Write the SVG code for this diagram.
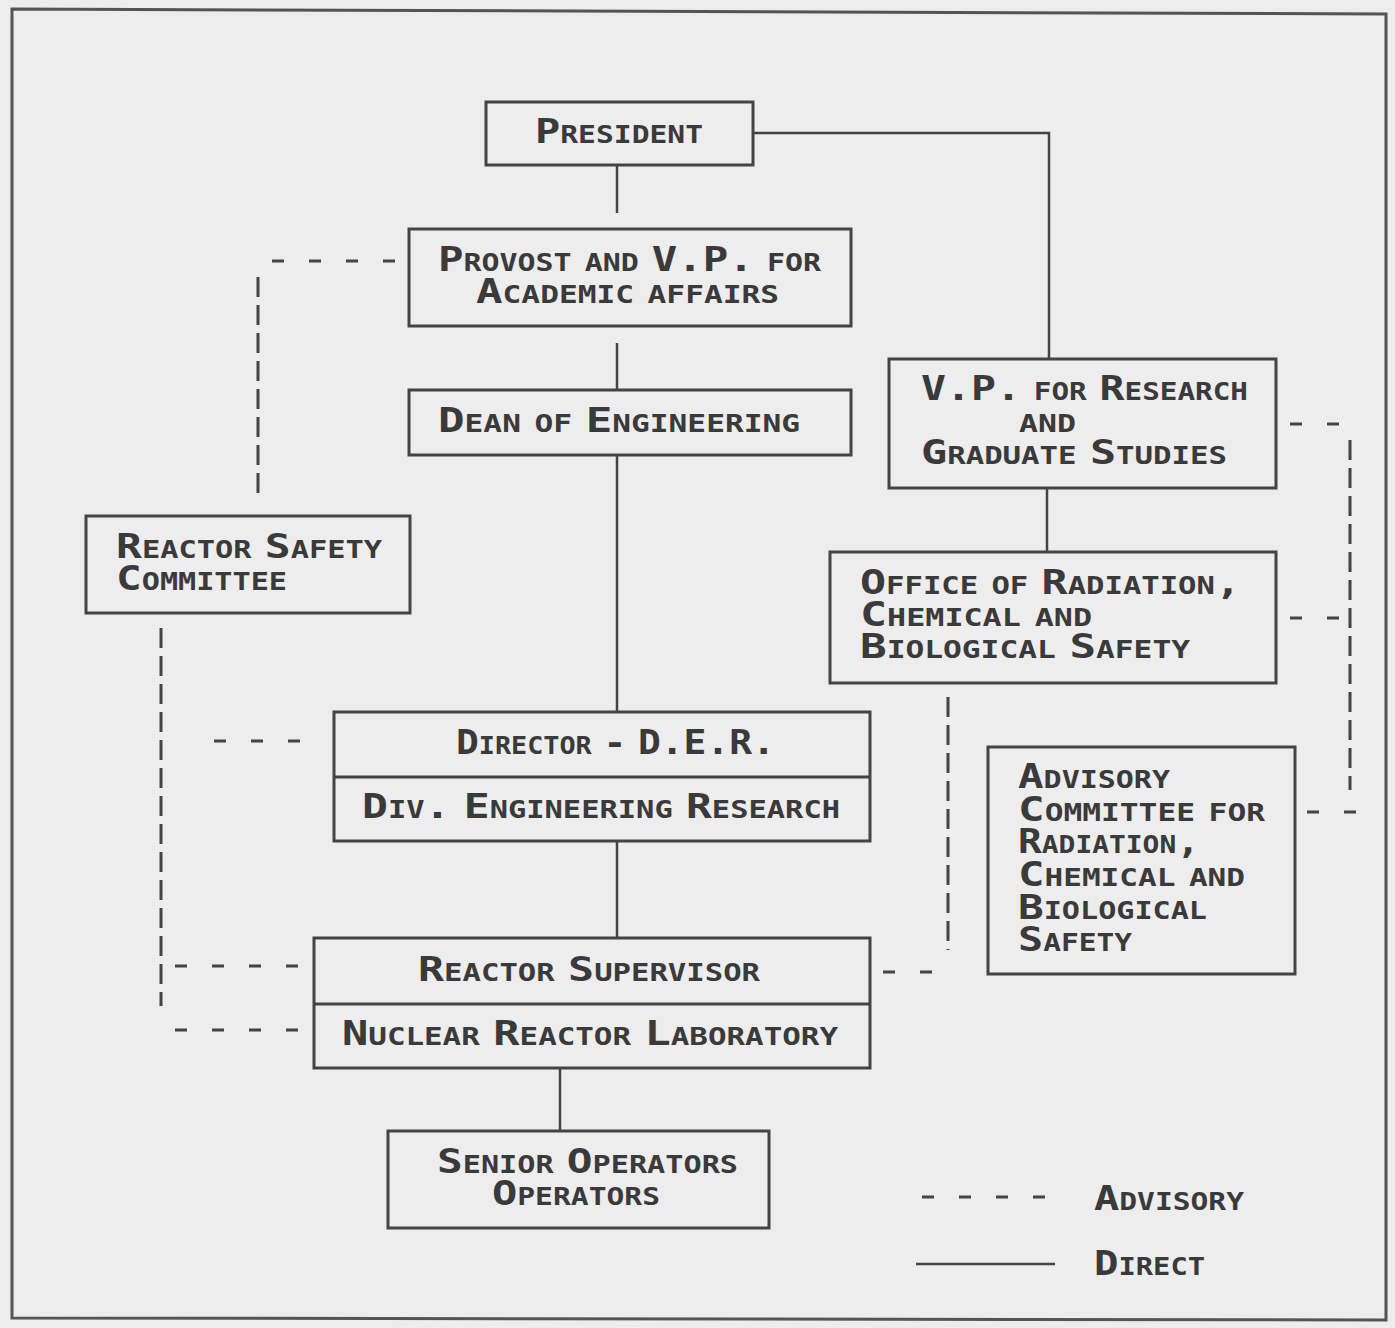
<svg xmlns="http://www.w3.org/2000/svg" width="1395" height="1328" viewBox="0 0 1395 1328">
<style>
.bg{fill:#ededed}
.frame{fill:none;stroke:#555;stroke-width:3}
.box{fill:none;stroke:#444;stroke-width:3}
.div{stroke:#444;stroke-width:3}
.direct{fill:none;stroke:#444;stroke-width:2.5}
.adv{fill:none;stroke:#444;stroke-width:3;stroke-dasharray:12 25}
.advv{fill:none;stroke:#444;stroke-width:3;stroke-dasharray:20 8}
text{font-family:"DejaVu Sans Mono","Liberation Mono",monospace;font-weight:bold;font-size:34px;font-variant:small-caps;word-spacing:-10px;fill:#3a3a3a}
</style>
<rect class="bg" x="0" y="0" width="1395" height="1328"/>
<path class="frame" d="M12,9 L1386,14 L1386,1320 L12,1318 Z"/>

<g id="connectors">
  <path class="direct" d="M617,165 V213"/>
  <path class="direct" d="M753,133 H1049 V359"/>
  <path class="direct" d="M617,343 V390"/>
  <path class="direct" d="M617,455 V712"/>
  <path class="direct" d="M1047,488 V552"/>
  <path class="direct" d="M617,841 V938"/>
  <path class="direct" d="M560,1068 V1131"/>
  <path class="adv" d="M272,261 H400"/>
  <path class="advv" d="M258,277 V493"/>
  <path class="advv" d="M161,628 V1006"/>
  <path class="adv" d="M214,741 H305"/>
  <path class="adv" d="M175,966 H305"/>
  <path class="adv" d="M175,1030 H305"/>
  <path class="adv" d="M883,972 H938"/>
  <path class="advv" d="M948,697 V950"/>
  <path class="adv" d="M1290,424 H1340"/>
  <path class="advv" d="M1350,440 V790"/>
  <path class="adv" d="M1290,618 H1345"/>
  <path class="adv" d="M1307,812 H1360"/>
</g>

<g id="president">
  <rect class="box" x="486" y="102" width="267" height="63"/>
  <text x="535" y="143" textLength="168" lengthAdjust="spacingAndGlyphs">President</text>
</g>

<g id="provost">
  <rect class="box" x="409" y="229" width="442" height="97"/>
  <text><tspan x="438" y="271" textLength="383" lengthAdjust="spacingAndGlyphs">Provost and V.P. for</tspan><tspan x="476" y="303" textLength="303" lengthAdjust="spacingAndGlyphs">Academic affairs</tspan></text>
</g>

<g id="dean">
  <rect class="box" x="409" y="390" width="442" height="65"/>
  <text x="438" y="432" textLength="362" lengthAdjust="spacingAndGlyphs">Dean of Engineering</text>
</g>

<g id="vp-research">
  <rect class="box" x="889" y="359" width="387" height="129"/>
  <text><tspan x="921" y="400" textLength="327" lengthAdjust="spacingAndGlyphs">V.P. for Research</tspan><tspan x="1019" y="432" textLength="57" lengthAdjust="spacingAndGlyphs">and</tspan><tspan x="921" y="464" textLength="306" lengthAdjust="spacingAndGlyphs">Graduate Studies</tspan></text>
</g>

<g id="office-rcbs">
  <rect class="box" x="830" y="552" width="446" height="131"/>
  <text><tspan x="860" y="594" textLength="381" lengthAdjust="spacingAndGlyphs">Office of Radiation,</tspan><tspan x="860" y="626" textLength="232" lengthAdjust="spacingAndGlyphs">Chemical and</tspan><tspan x="860" y="658" textLength="330" lengthAdjust="spacingAndGlyphs">Biological Safety</tspan></text>
</g>

<g id="reactor-safety-committee">
  <rect class="box" x="86" y="516" width="324" height="97"/>
  <text><tspan x="116" y="558" textLength="266" lengthAdjust="spacingAndGlyphs">Reactor Safety</tspan><tspan x="116" y="590" textLength="171" lengthAdjust="spacingAndGlyphs">Committee</tspan></text>
</g>

<g id="director">
  <rect class="box" x="334" y="712" width="536" height="129"/>
  <line class="div" x1="334" y1="777" x2="870" y2="777"/>
  <text x="456" y="754" textLength="319" lengthAdjust="spacingAndGlyphs">Director - D.E.R.</text>
  <text x="362" y="818" textLength="478" lengthAdjust="spacingAndGlyphs">Div. Engineering Research</text>
</g>

<g id="advisory-committee">
  <rect class="box" x="988" y="747" width="307" height="227"/>
  <text><tspan x="1018" y="788" textLength="152" lengthAdjust="spacingAndGlyphs">Advisory</tspan><tspan x="1018" y="821" textLength="247" lengthAdjust="spacingAndGlyphs">Committee for</tspan><tspan x="1018" y="853" textLength="182" lengthAdjust="spacingAndGlyphs">Radiation,</tspan><tspan x="1018" y="886" textLength="227" lengthAdjust="spacingAndGlyphs">Chemical and</tspan><tspan x="1018" y="919" textLength="189" lengthAdjust="spacingAndGlyphs">Biological</tspan><tspan x="1018" y="951" textLength="114" lengthAdjust="spacingAndGlyphs">Safety</tspan></text>
</g>

<g id="reactor-supervisor">
  <rect class="box" x="314" y="938" width="556" height="130"/>
  <line class="div" x1="314" y1="1004" x2="870" y2="1004"/>
  <text x="418" y="981" textLength="342" lengthAdjust="spacingAndGlyphs">Reactor Supervisor</text>
  <text x="342" y="1045" textLength="496" lengthAdjust="spacingAndGlyphs">Nuclear Reactor Laboratory</text>
</g>

<g id="operators">
  <rect class="box" x="388" y="1131" width="381" height="97"/>
  <text><tspan x="437" y="1173" textLength="301" lengthAdjust="spacingAndGlyphs">Senior Operators</tspan><tspan x="492" y="1205" textLength="168" lengthAdjust="spacingAndGlyphs">Operators</tspan></text>
</g>

<g id="legend">
  <path class="adv" d="M922,1197 H1055"/>
  <text x="1094" y="1210" textLength="150" lengthAdjust="spacingAndGlyphs">Advisory</text>
  <path class="direct" d="M916,1264 H1055"/>
  <text x="1094" y="1275" textLength="111" lengthAdjust="spacingAndGlyphs">Direct</text>
</g>
</svg>
